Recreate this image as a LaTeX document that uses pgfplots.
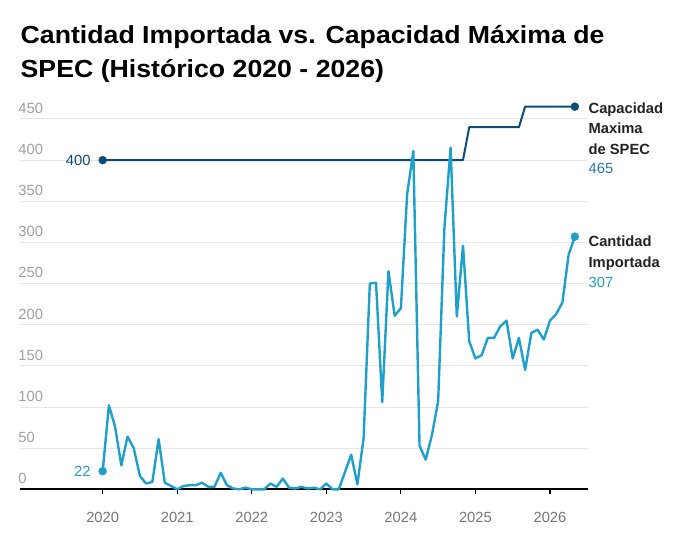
\documentclass[border=0pt]{standalone}
\usepackage{pgfplots}
\pgfplotsset{compat=1.18}
\usepackage{fontspec}
\setmainfont{Liberation Sans}
\newfontfamily\titlefont[FakeStretch=1.08]{Liberation Sans}
\definecolor{capc}{HTML}{0C4D78}
\definecolor{impc}{HTML}{1FA0CB}
\definecolor{caplab}{HTML}{2E77AA}
\definecolor{ygray}{HTML}{A0A0A0}
\definecolor{xgray}{HTML}{777777}
\definecolor{gridgray}{HTML}{E6E6E6}
\definecolor{labdark}{HTML}{222222}
\begin{document}
\begin{tikzpicture}
\useasboundingbox (0bp,0bp) rectangle (680bp,545bp);
\node[anchor=base west, inner sep=0pt, font=\titlefont\fontsize{24.8}{34}\selectfont\bfseries] at (20.5bp,501.7bp) {Cantidad Importada vs. Capacidad Máxima de};
\node[anchor=base west, inner sep=0pt, font=\titlefont\fontsize{24.8}{34}\selectfont\bfseries] at (20.5bp,467.7bp) {SPEC (Histórico 2020 - 2026)};
\begin{axis}[
  at={(20bp,55.7bp)}, anchor=south west,
  scale only axis, width=568bp, height=370.3bp,
  xmin=-13.31, xmax=78.12, ymin=0, ymax=450,
  clip=false,
  axis line style={draw=none},
  xtick={0,12,24,36,48,60,72},
  xticklabels={2020,2021,2022,2023,2024,2025,2026},
  ytick={0,50,100,150,200,250,300,350,400,450},
  xtick pos=bottom, ytick pos=left,
  tick align=center,
  major tick length=5bp,
  xtick style={draw=black, line width=1.2bp, yshift=-2.5bp},
  ytick style={draw=none},
  ymajorgrids,
  grid style={gridgray, line width=1bp},
  yticklabel style={anchor=base west, inner sep=0pt, xshift=0.7bp, yshift=5.6bp, font=\fontsize{14.8}{16}\selectfont, text=ygray},
  xticklabel style={anchor=base, inner sep=0pt, yshift=-31bp, font=\fontsize{14.8}{16}\selectfont, text=xgray},
  /pgf/number format/assume math mode=true,
]
\draw[black, line width=2bp] (rel axis cs:0,0) -- (rel axis cs:1,0);
\addplot[capc, line width=2bp, line join=round, mark=none] coordinates {
(0,400)(1,400)(2,400)(3,400)(4,400)(5,400)(6,400)(7,400)(8,400)(9,400)
(10,400)(11,400)(12,400)(13,400)(14,400)(15,400)(16,400)(17,400)(18,400)(19,400)
(20,400)(21,400)(22,400)(23,400)(24,400)(25,400)(26,400)(27,400)(28,400)(29,400)
(30,400)(31,400)(32,400)(33,400)(34,400)(35,400)(36,400)(37,400)(38,400)(39,400)
(40,400)(41,400)(42,400)(43,400)(44,400)(45,400)(46,400)(47,400)(48,400)(49,400)
(50,400)(51,400)(52,400)(53,400)(54,400)(55,400)(56,400)(57,400)(58,400)(59,440)
(60,440)(61,440)(62,440)(63,440)(64,440)(65,440)(66,440)(67,440)(68,465)(69,465)
(70,465)(71,465)(72,465)(73,465)(74,465)(75,465)(76,465)
};
\addplot[impc, line width=2.4bp, line join=round, mark=none] coordinates {
(0,22)(1,102)(2,76)(3,29)(4,64)(5,50)(6,16)(7,7)(8,9)(9,61)
(10,8)(11,4)(12,0)(13,4)(14,5)(15,5)(16,8)(17,3)(18,3)(19,20)
(20,5)(21,1)(22,0)(23,2)(24,0)(25,0)(26,0)(27,7)(28,3)(29,13)
(30,2)(31,1)(32,3)(33,1)(34,2)(35,0)(36,7)(37,0)(38,0)(39,21)
(40,42)(41,6)(42,62)(43,250)(44,251)(45,106)(46,265)(47,211)(48,220)(49,358)
(50,411)(51,53)(52,36)(53,66)(54,107)(55,317)(56,415)(57,210)(58,296)(59,180)
(60,159)(61,163)(62,184)(63,184)(64,198)(65,205)(66,159)(67,184)(68,145)(69,190)
(70,194)(71,182)(72,205)(73,213)(74,227)(75,285)(76,307)
};
\addplot[only marks, mark=*, mark size=4bp, capc, mark options={draw=capc, fill=capc}] coordinates {(0,400)(76,465)};
\addplot[only marks, mark=*, mark size=4bp, impc, mark options={draw=impc, fill=impc}] coordinates {(0,22)(76,307)};
\node[anchor=east, inner sep=0pt, xshift=-12bp, font=\fontsize{14.8}{16}\selectfont, text=capc] at (axis cs:0,400) {400};
\node[anchor=east, inner sep=0pt, xshift=-12bp, font=\fontsize{14.8}{16}\selectfont, text=impc] at (axis cs:0,22) {22};
\end{axis}
\begin{scope}[every node/.style={anchor=base west, inner sep=0pt, font=\fontsize{14.8}{16}\selectfont}]
\node[font=\fontsize{14.8}{16}\selectfont\bfseries, text=labdark] at (588.4bp,431.7bp) {Capacidad};
\node[font=\fontsize{14.8}{16}\selectfont\bfseries, text=labdark] at (588.4bp,411.2bp) {Maxima};
\node[font=\fontsize{14.8}{16}\selectfont\bfseries, text=labdark] at (588.4bp,390.6bp) {de SPEC};
\node[text=caplab] at (588.4bp,371bp) {465};
\node[font=\fontsize{14.8}{16}\selectfont\bfseries, text=labdark] at (588.4bp,298.2bp) {Cantidad};
\node[font=\fontsize{14.8}{16}\selectfont\bfseries, text=labdark] at (588.4bp,277.6bp) {Importada};
\node[text=impc] at (588.4bp,257bp) {307};
\end{scope}
\end{tikzpicture}
\end{document}
